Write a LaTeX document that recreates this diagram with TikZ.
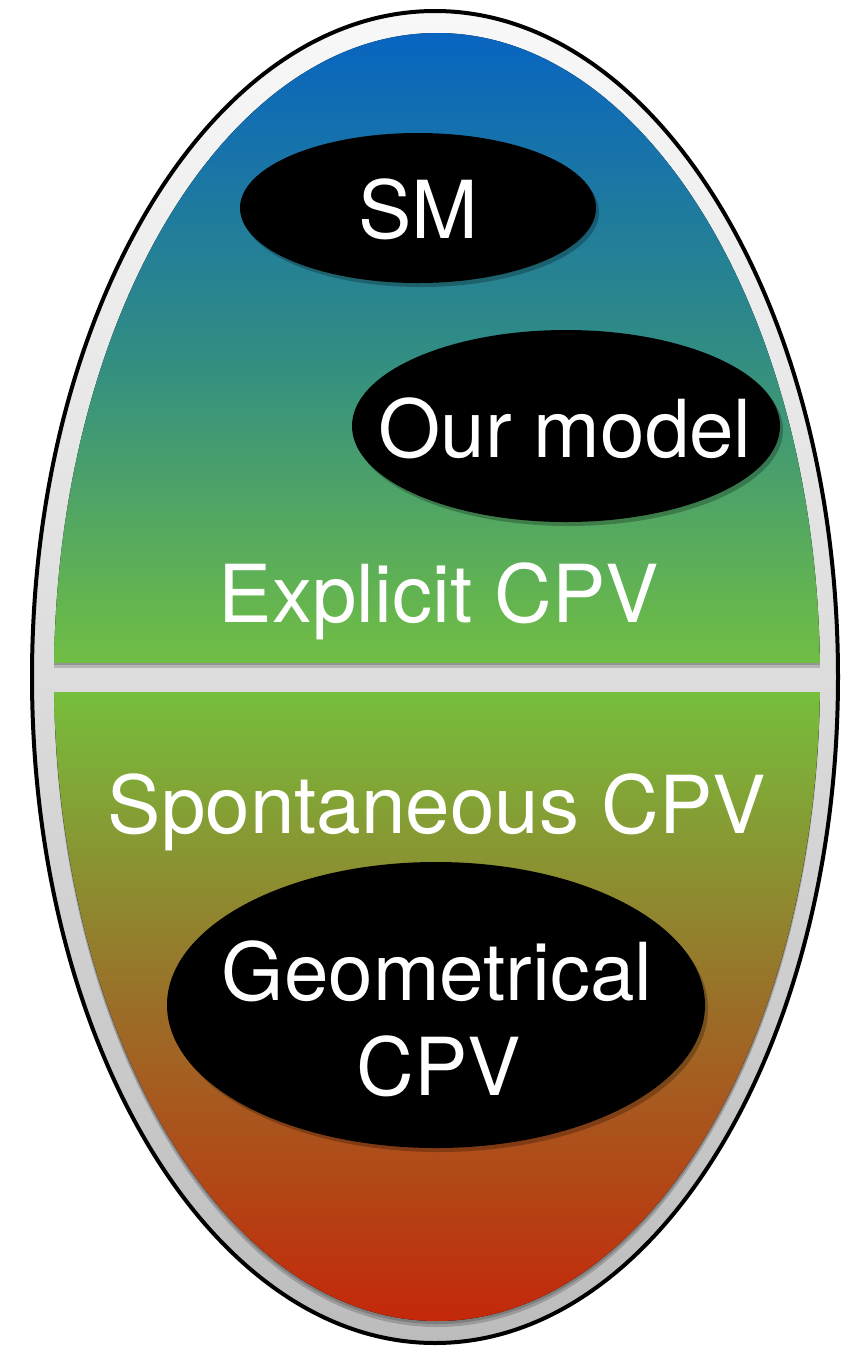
\documentclass[tikz,border=0pt]{standalone}
\usepackage{fontspec}
\setmainfont{TeX Gyre Heros}

\definecolor{rimtop}{RGB}{248,248,248}
\definecolor{rimmid}{RGB}{220,220,220}
\definecolor{rimbot}{RGB}{188,188,188}
\definecolor{cpvblue}{RGB}{8,100,192}
\definecolor{cpvteal}{RGB}{48,140,132}
\definecolor{cpvgreen}{RGB}{112,190,68}
\definecolor{cpvlime}{RGB}{118,190,60}
\definecolor{cpvbrown}{RGB}{155,110,40}
\definecolor{cpvred}{RGB}{196,40,10}

\tikzset{
 blob/.style={fill=black},
 blobshade/.style={fill=black, opacity=0.25},
 halfshade/.style={fill=black, opacity=0.18},
 lbl/.style={text=white, font=\fontsize{40}{47.5}\selectfont, inner sep=0pt, anchor=base},
}

\begin{document}
\begin{tikzpicture}[x=0.5pt, y=-0.5pt]
 \useasboundingbox (0,0) rectangle (856,1351);
 % rim
 \draw[line width=2pt, top color=rimtop, bottom color=rimbot, middle color=rimmid] (435,677) ellipse [x radius=403, y radius=666];
 % shadows of the two halves
 \begin{scope}
  \clip (437,683) ellipse [x radius=383, y radius=644];
  \fill[halfshade] (40,30) rectangle (830,668);
  \fill[halfshade] (40,692) rectangle (830,1340);
 \end{scope}
 \begin{scope}
  \clip (437,680) ellipse [x radius=383, y radius=644];
  \fill[halfshade] (40,30) rectangle (830,665);
  \fill[halfshade] (40,692) rectangle (830,1340);
 \end{scope}
 % explicit / spontaneous halves
 \begin{scope}
  \clip (437,677) ellipse [x radius=383, y radius=644];
  \fill[top color=cpvblue, bottom color=cpvgreen, middle color=cpvteal] (54,33) rectangle (820,662);
  \fill[top color=cpvlime, bottom color=cpvred, middle color=cpvbrown] (54,692) rectangle (820,1321);
 \end{scope}

 \fill[blobshade] (421,212) ellipse [x radius=178, y radius=75];
 \fill[blob] (418,208) ellipse [x radius=178, y radius=75];
 \fill[blobshade] (569,430) ellipse [x radius=214, y radius=96];
 \fill[blob] (566,426) ellipse [x radius=214, y radius=96];
 \fill[blobshade] (439,1009) ellipse [x radius=269, y radius=143];
 \fill[blob] (436,1005) ellipse [x radius=269, y radius=143];

 \node[lbl] (sm) at (418,238) {SM};
 \node[lbl] (ours) at (565,457) {Our model};
 \node[lbl] (explicit) at (439,622) {Explicit CPV};
 \node[lbl] (spont) at (437,833) {Spontaneous CPV};
 \node[lbl] (geo) at (437,1000) {Geometrical};
 \node[lbl] (geocpv) at (439,1095) {CPV};
\end{tikzpicture}
\end{document}
